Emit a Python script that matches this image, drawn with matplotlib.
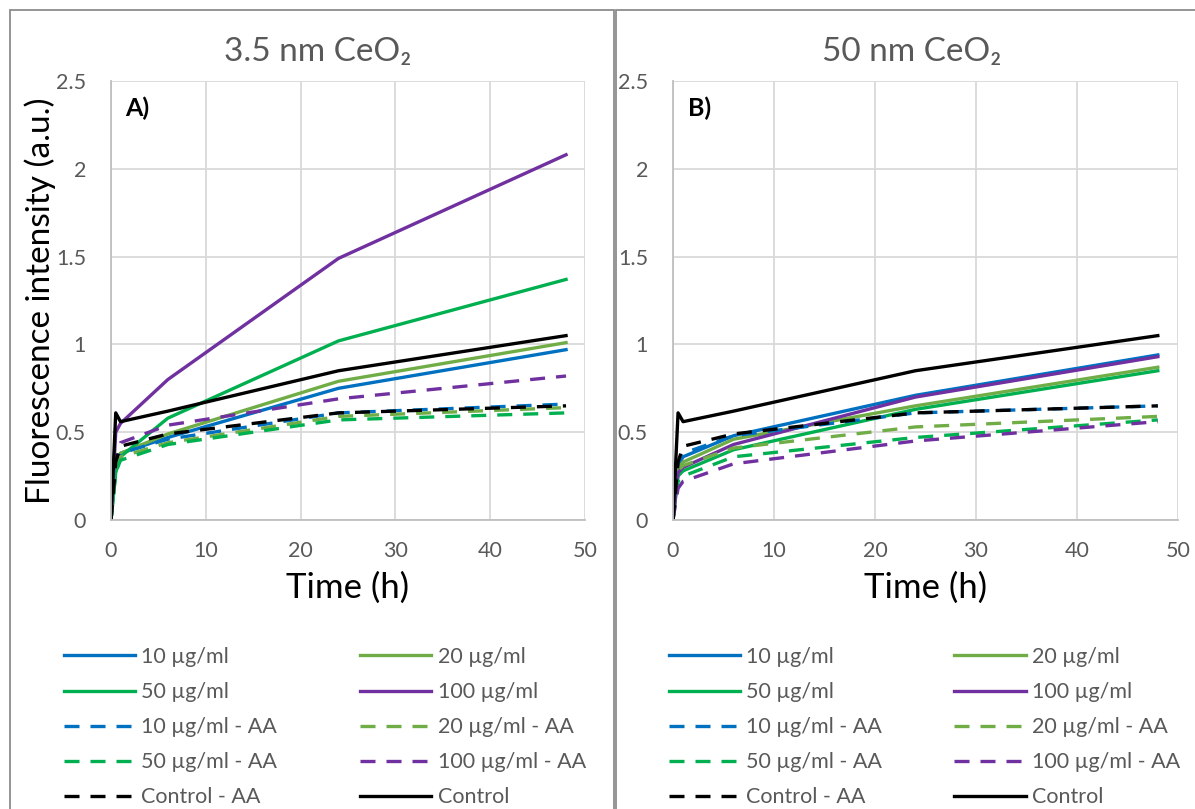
import matplotlib.pyplot as plt
from matplotlib.patches import Rectangle

plt.rcParams['font.family'] = ['Lato', 'DejaVu Sans']

# sampling times (h)
times = [0, 0.5, 1, 6, 24, 48]

# 3.5 nm CeO2
a_10 = [0, 0.30, 0.38, 0.47, 0.75, 0.97]
a_20 = [0, 0.30, 0.38, 0.49, 0.79, 1.01]
a_50 = [0, 0.27, 0.36, 0.58, 1.02, 1.37]
a_100 = [0, 0.50, 0.55, 0.80, 1.49, 2.08]
a_10aa = [0, 0.30, 0.38, 0.46, 0.61, 0.66]
a_20aa = [0, 0.28, 0.36, 0.44, 0.59, 0.64]
a_50aa = [0, 0.27, 0.34, 0.43, 0.57, 0.61]
a_100aa = [0, 0.36, 0.44, 0.54, 0.69, 0.82]
a_ctrlaa = [0, 0.33, 0.42, 0.49, 0.61, 0.65]
a_ctrl = [0, 0.61, 0.56, 0.62, 0.85, 1.05]

# 50 nm CeO2
b_10 = [0, 0.31, 0.36, 0.48, 0.71, 0.94]
b_20 = [0, 0.29, 0.33, 0.46, 0.65, 0.87]
b_50 = [0, 0.25, 0.28, 0.40, 0.63, 0.85]
b_100 = [0, 0.27, 0.30, 0.43, 0.70, 0.93]
b_10aa = [0, 0.33, 0.38, 0.48, 0.61, 0.65]
b_20aa = [0, 0.28, 0.31, 0.41, 0.53, 0.59]
b_50aa = [0, 0.22, 0.25, 0.36, 0.47, 0.57]
b_100aa = [0, 0.18, 0.22, 0.32, 0.45, 0.56]
b_ctrlaa = [0, 0.33, 0.42, 0.49, 0.61, 0.65]
b_ctrl = [0, 0.61, 0.56, 0.62, 0.85, 1.05]

labels = ['10 µg/ml', '20 µg/ml', '50 µg/ml', '100 µg/ml',
          '10 µg/ml - AA', '20 µg/ml - AA', '50 µg/ml - AA', '100 µg/ml - AA',
          'Control - AA', 'Control']
colors = ['#0070C0', '#70AD47', '#00B050', '#7030A0',
          '#0070C0', '#70AD47', '#00B050', '#7030A0', 'black', 'black']
dashed = [False, False, False, False, True, True, True, True, True, False]

panel_a = [a_10, a_20, a_50, a_100, a_10aa, a_20aa, a_50aa, a_100aa, a_ctrlaa, a_ctrl]
panel_b = [b_10, b_20, b_50, b_100, b_10aa, b_20aa, b_50aa, b_100aa, b_ctrlaa, b_ctrl]

W, H = 1195, 809
fig = plt.figure(figsize=(W / 100, H / 100), dpi=100)

# chart frames
for x0, x1 in [(10, 614), (616, 1200)]:
    fig.add_artist(Rectangle((x0 / W, -0.01), (x1 - x0) / W, (H - 10) / H + 0.01,
                             transform=fig.transFigure, fill=False,
                             edgecolor='#8C8C8C', lw=1.3))

grey = '#595959'


def draw(ax, series, tag):
    handles = []
    for ys, lab, c, d in zip(series, labels, colors, dashed):
        ln, = ax.plot(times, ys, color=c, lw=2.4, label=lab,
                      solid_joinstyle='round')
        if d:
            ln.set_dashes((4.5, 3.3))
        handles.append(ln)
    ax.set_xlim(0, 50)
    ax.set_ylim(0, 2.5)
    ax.set_xticks(range(0, 51, 10))
    ax.set_yticks([0, 0.5, 1, 1.5, 2, 2.5])
    ax.set_yticklabels(['0', '0.5', '1', '1.5', '2', '2.5'])
    ax.grid(color='#D9D9D9', lw=1.3)
    ax.set_axisbelow(True)
    for s in ['top', 'right']:
        ax.spines[s].set_visible(False)
    for s in ['left', 'bottom']:
        ax.spines[s].set_color('#BFBFBF')
        ax.spines[s].set_linewidth(1.3)
    ax.tick_params(length=0, labelsize=15.5, colors=grey)
    ax.tick_params(axis='y', pad=18)
    ax.tick_params(axis='x', pad=15)
    ax.text(0.03, 0.965, tag, transform=ax.transAxes, fontsize=18,
            fontweight='bold', va='top', ha='left')
    return handles


ax1 = fig.add_axes([111 / W, (H - 520) / H, (585 - 111) / W, (520 - 81) / H])
ax2 = fig.add_axes([673 / W, (H - 520) / H, (1178 - 673) / W, (520 - 81) / H])
h1 = draw(ax1, panel_a, 'A)')
h2 = draw(ax2, panel_b, 'B)')

ax1.set_ylabel('Fluorescence intensity (a.u.)', fontsize=24, labelpad=0)
ax1.set_xlabel('Time (h)', fontsize=25, labelpad=8)
ax2.set_xlabel('Time (h)', fontsize=25, labelpad=8)

fig.text(318 / W, 1 - 52 / H, '3.5 nm CeO₂', fontsize=24, color=grey,
         ha='center', va='center')
fig.text(912 / W, 1 - 52 / H, '50 nm CeO₂', fontsize=24, color=grey,
         ha='center', va='center')

# legend: row-major in picture, matplotlib fills column-first
order = [0, 2, 4, 6, 8, 1, 3, 5, 7, 9]
for hs, x0, cs in [(h1, 64, 3.85), (h2, 669, 3.35)]:
    leg = fig.legend([hs[i] for i in order], [labels[i] for i in order],
                     ncol=2, frameon=False, fontsize=15.5,
                     loc='upper left', bbox_to_anchor=(x0 / W, 1 - 647 / H),
                     borderaxespad=0, borderpad=0,
                     handlelength=3.3, handletextpad=0.3,
                     columnspacing=cs, labelspacing=0.7)
    for t in leg.get_texts():
        t.set_color(grey)

fig.savefig('out.png', dpi=100)
